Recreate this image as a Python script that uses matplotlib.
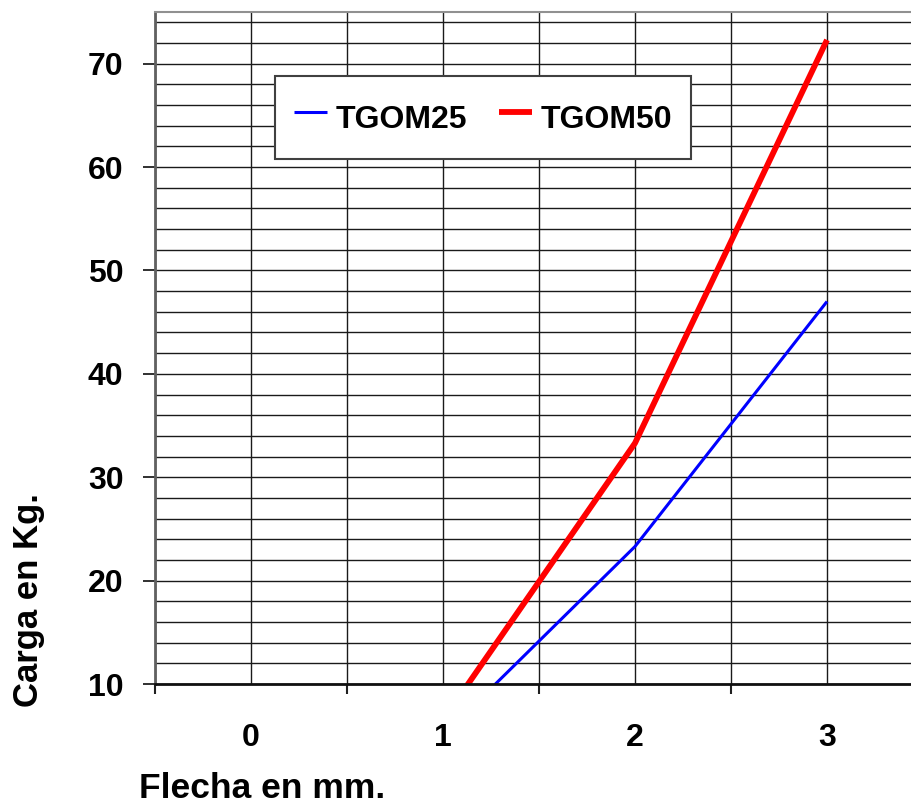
import matplotlib
matplotlib.use("Agg")
import matplotlib.pyplot as plt
from matplotlib.ticker import MultipleLocator, FixedLocator

# ---- data ----
flecha = [0, 1, 2, 3]
tgom25 = [0, 5.0, 23.3, 47.0]
tgom50 = [0, 6.5, 33.3, 72.3]
x_tick_labels = ["0", "1", "2", "3"]
y_ticks = [10, 20, 30, 40, 50, 60, 70]
series_names = ["TGOM25", "TGOM50"]

FONT = "Liberation Sans"
FS = 23

plt.rcParams["font.family"] = [FONT, "DejaVu Sans"]
plt.rcParams["font.weight"] = "bold"

W, H = 911, 806
fig = plt.figure(figsize=(W / 100, H / 100), dpi=100)
left, right, top, bottom = 155, 923, 12, 684
ax = fig.add_axes([left / W, (H - bottom) / H, (right - left) / W, (bottom - top) / H])

ax.plot(flecha, tgom25, color="#0000FF", lw=2.2, label=series_names[0], solid_capstyle="butt")
ax.plot(flecha, tgom50, color="#FF0000", lw=4.2, label=series_names[1], solid_capstyle="butt")

ax.set_xlim(-0.5, 3.5)
ax.set_ylim(10, 75)

# x ticks: labels at integers, tick marks at half positions
ax.xaxis.set_major_locator(FixedLocator(flecha))
ax.set_xticklabels(x_tick_labels)
ax.xaxis.set_minor_locator(FixedLocator([-0.5, 0.5, 1.5, 2.5, 3.5]))
ax.tick_params(axis="x", which="major", length=0, pad=28, labelsize=FS)
ax.tick_params(axis="x", which="minor", length=7.5, width=1.5, color="#202020", direction="out")

# y ticks
ax.yaxis.set_major_locator(FixedLocator(y_ticks))
ax.yaxis.set_minor_locator(MultipleLocator(2))
ax.tick_params(axis="y", which="major", length=8.6, width=1.3, color="#202020", pad=14, labelsize=FS)
ax.tick_params(axis="y", which="minor", length=0)
for lbl in ax.get_xticklabels() + ax.get_yticklabels():
    lbl.set_fontweight("bold")

ax.grid(True, which="both", color="#1a1a1a", lw=1.0)
ax.set_axisbelow(True)

ax.spines["left"].set_color("#606060")
ax.spines["left"].set_linewidth(2.0)
ax.spines["bottom"].set_color("#101010")
ax.spines["bottom"].set_linewidth(2.0)
ax.spines["top"].set_color("#909090")
ax.spines["top"].set_linewidth(1.5)
ax.spines["right"].set_visible(False)

leg = ax.legend(loc="center", bbox_to_anchor=((483 - left) / (right - left), (bottom - 117.5) / (bottom - top)),
                ncol=2, frameon=True, fancybox=False, shadow=False, framealpha=1,
                edgecolor="#404040", prop={"family": FONT, "weight": "bold", "size": FS},
                handlelength=1.05, handletextpad=0.25, columnspacing=1.0,
                borderpad=0.6, handleheight=1.75, borderaxespad=0)
leg.get_frame().set_linewidth(1.5)

fig.text(29 / W, 1 - 600 / H, "Carga en Kg.", rotation=90, ha="center", va="center",
         fontsize=25, fontweight="bold", family=FONT)
fig.text(262.5 / W, (H - 789) / H, "Flecha en mm.", ha="center", va="center",
         fontsize=25.5, fontweight="bold", family=FONT)

fig.savefig("out.png", dpi=100)
